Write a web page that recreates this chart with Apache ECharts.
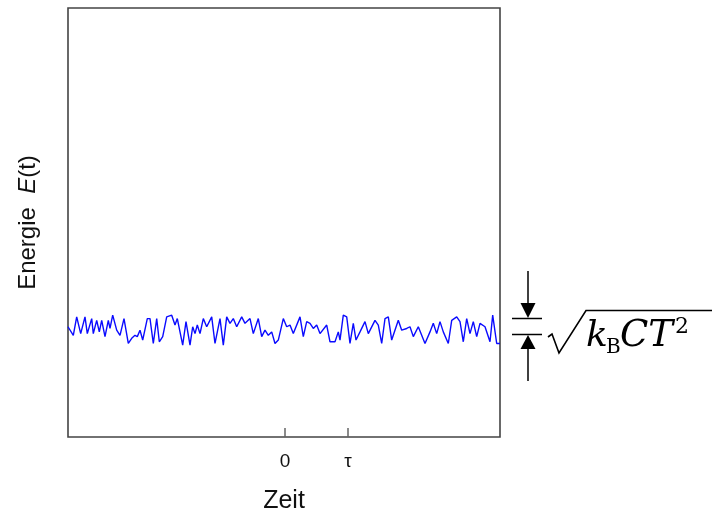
<!DOCTYPE html>
<html>
<head>
<meta charset="utf-8">
<script src="https://cdn.jsdelivr.net/npm/echarts@6/dist/echarts.min.js"></script>
<style>
  html, body { margin: 0; padding: 0; background: #fff; }
  #chart { width: 717px; height: 515px; }
</style>
</head>
<body>
<div id="chart"></div>
<script>
// Energy fluctuation trace E(t): sample times and energy values
const times = [
  -217, -211.7, -208.3, -204.3, -200, -197.7, -193.3, -191.7, -188.3, -185.7,
  -183.3, -180, -176.7, -175, -172.3, -168.3, -165, -161, -156.7, -153.3,
  -150, -147.7, -145, -142.3, -137.7, -135, -131.7, -128.3, -125.7, -122.3,
  -118.3, -113.3, -110, -107.7, -102.3, -99, -95, -92.3, -90, -87.7,
  -85, -81.7, -78.3, -73.3, -70, -65, -61.7, -58.3, -55, -51.7,
  -48.3, -43.3, -40, -35, -31.7, -26.7, -23.3, -20, -16.7, -13.3,
  -10, -6.7, -1.7, 1.7, 5, 8.3, 15, 18.3, 21.7, 25,
  28.3, 31.7, 35, 41.7, 45, 50, 53.3, 55, 58.3, 61.7,
  65, 68.3, 71, 75, 80, 83.3, 90, 93.3, 96.7, 100,
  103.3, 106.7, 113.3, 116.7, 121.7, 125, 128.3, 133.3, 140, 145,
  148.3, 151.7, 155, 158.3, 163.3, 166.7, 171.7, 175, 178.3, 181.7,
  185, 188.3, 191.7, 195, 200, 205, 207.7, 211.7, 215
];
const energy = [
  25.7, 23.7, 28.0, 24.1, 28.0, 24.1, 27.6, 24.1, 27.2, 24.5,
  27.2, 23.4, 27.2, 25.3, 28.4, 24.9, 23.7, 27.6, 21.8, 23.0,
  23.7, 23.4, 24.9, 22.6, 27.6, 27.6, 21.8, 27.6, 22.2, 23.4,
  28.0, 28.4, 26.1, 27.6, 21.4, 26.9, 21.4, 25.7, 24.1, 26.1,
  24.1, 27.6, 25.7, 28.0, 21.8, 27.6, 21.4, 28.0, 26.5, 27.6,
  25.7, 28.0, 26.5, 27.6, 24.1, 27.6, 23.4, 24.9, 23.7, 24.5,
  21.8, 22.6, 27.6, 25.7, 26.1, 24.1, 28.0, 23.4, 26.9, 26.5,
  25.3, 26.1, 24.1, 26.1, 22.2, 22.2, 24.5, 22.6, 28.4, 28.0,
  21.8, 26.5, 22.6, 24.5, 26.9, 24.1, 27.2, 26.1, 21.8, 27.6,
  28.0, 22.6, 27.2, 24.9, 25.3, 25.7, 23.4, 25.7, 21.8, 24.5,
  26.5, 24.1, 26.9, 24.5, 21.8, 27.2, 28.0, 26.9, 22.2, 27.6,
  24.1, 26.9, 23.4, 26.5, 25.7, 22.2, 28.4, 21.8, 21.8
];
// Time axis: the only marked ticks are the origin and the correlation time tau
const tickValues = [0, 63];
const tickLabels = ['0', 'τ'];

const seriesData = times.map((t, i) => [t, energy[i]]);

const chart = echarts.init(document.getElementById('chart'), null, { renderer: 'canvas' });

chart.setOption({
  animation: false,
  grid: {
    left: 68, right: 217, top: 8, bottom: 78,
    containLabel: false,
    outerBoundsMode: 'none',
    show: true, borderColor: '#444', borderWidth: 1.6,
    backgroundColor: 'transparent'
  },
  xAxis: {
    type: 'value',
    min: -217, max: 215,
    name: 'Zeit',
    nameLocation: 'middle',
    nameGap: 52,
    nameTextStyle: { fontFamily: 'Liberation Sans', fontSize: 25, color: '#111' },
    axisLine: { show: false },
    splitLine: { show: false },
    axisTick: {
      show: true, inside: true, length: 9,
      customValues: tickValues,
      lineStyle: { color: '#666', width: 1.5 }
    },
    axisLabel: {
      show: true,
      customValues: tickValues,
      margin: 15,
      fontFamily: 'Liberation Sans', fontSize: 19, color: '#111',
      formatter: v => tickLabels[tickValues.indexOf(v)] ?? ''
    }
  },
  yAxis: {
    type: 'value',
    min: 0, max: 100,
    name: 'Energie  {i|E}(t)',
    nameLocation: 'middle',
    nameRotate: 90,
    nameGap: 28,
    nameTextStyle: {
      fontFamily: 'Liberation Sans', fontSize: 24, color: '#111',
      rich: { i: { fontFamily: 'Liberation Sans', fontSize: 24, fontStyle: 'italic', color: '#111' } }
    },
    axisLine: { show: false },
    axisTick: { show: false },
    axisLabel: { show: false },
    splitLine: { show: false }
  },
  series: [{
    type: 'line',
    data: seriesData,
    showSymbol: false,
    lineStyle: { color: '#0a0aff', width: 1.4 },
    clip: true
  }],
  graphic: [
    // spread markers with arrows
    { type: 'line', shape: { x1: 528, y1: 271, x2: 528, y2: 305 }, style: { stroke: '#000', lineWidth: 1.5 } },
    { type: 'polygon', shape: { points: [[520.5, 303], [535.5, 303], [528, 318]] }, style: { fill: '#000' } },
    { type: 'line', shape: { x1: 512, y1: 318.5, x2: 542, y2: 318.5 }, style: { stroke: '#000', lineWidth: 1.5 } },
    { type: 'line', shape: { x1: 512, y1: 334.5, x2: 542, y2: 334.5 }, style: { stroke: '#000', lineWidth: 1.5 } },
    { type: 'polygon', shape: { points: [[520.5, 349], [535.5, 349], [528, 335]] }, style: { fill: '#000' } },
    { type: 'line', shape: { x1: 528, y1: 347, x2: 528, y2: 381 }, style: { stroke: '#000', lineWidth: 1.5 } },
    // square root sign
    { type: 'polyline', shape: { points: [[548, 337], [552, 334], [559, 353], [586, 310.5], [712, 310.5]] },
      style: { stroke: '#000', lineWidth: 1.6, fill: null } },
    { type: 'text', x: 586, y: 355, style: { text: 'k', font: 'italic 36px "DejaVu Serif"', fill: '#000', verticalAlign: 'bottom' } },
    { type: 'text', x: 606, y: 358, style: { text: 'B', font: '20px "DejaVu Serif"', fill: '#000', verticalAlign: 'bottom' } },
    { type: 'text', x: 620, y: 355, style: { text: 'CT', font: 'italic 37px "DejaVu Serif"', fill: '#000', verticalAlign: 'bottom' } },
    { type: 'text', x: 675, y: 338, style: { text: '2', font: '22px "DejaVu Serif"', fill: '#000', verticalAlign: 'bottom' } }
  ]
});
</script>
</body>
</html>
